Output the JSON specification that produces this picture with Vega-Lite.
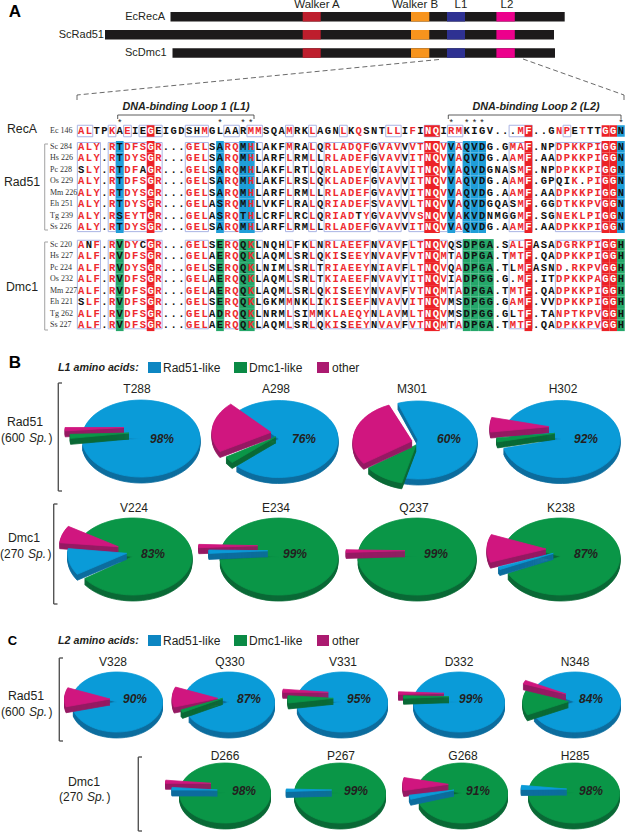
{
"$schema":"https://vega.github.io/schema/vega-lite/v6.json",
"width":625,"height":832,"padding":0,"autosize":{"type":"none"},
"background":"white",
"config":{"view":{"stroke":null},"axis":{"disable":true},"legend":{"disable":true},"text":{"font":"Liberation Sans"}},
"resolve":{"scale":{"x":"independent","y":"independent","color":"independent"}},
"datasets":{
"bars":[{"protein":"EcRecA","a":170.5,"b":564.7,"top":12,"bot":21.5},{"protein":"ScRad51","a":105,"b":554,"top":30,"bot":39.5},{"protein":"ScDmc1","a":172.5,"b":555,"top":48.3,"bot":57.8}],
"motifs":[
{"motif":"Walker A","a":302.7,"b":320.7,"top":12,"bot":21.5},{"motif":"Walker B","a":411,"b":429.3,"top":12,"bot":21.5},{"motif":"L1","a":447,"b":465,"top":12,"bot":21.5},{"motif":"L2","a":496.4,"b":514.8,"top":12,"bot":21.5},
{"motif":"Walker A","a":302.7,"b":320.7,"top":30,"bot":39.5},{"motif":"Walker B","a":411,"b":429.3,"top":30,"bot":39.5},{"motif":"L1","a":447,"b":465,"top":30,"bot":39.5},{"motif":"L2","a":496.4,"b":514.8,"top":30,"bot":39.5},
{"motif":"Walker A","a":302.7,"b":320.7,"top":48.3,"bot":57.8},{"motif":"Walker B","a":411,"b":429.3,"top":48.3,"bot":57.8},{"motif":"L1","a":447,"b":465,"top":48.3,"bot":57.8},{"motif":"L2","a":496.4,"b":514.8,"top":48.3,"bot":57.8}],
"dashes":[{"a":439,"b":77,"p":59.5,"q":95},{"a":77,"b":77,"p":95,"q":103},{"a":523,"b":624,"p":59,"q":95},{"a":624,"b":624,"p":95,"q":103}],
"brackets":[
{"kind":"loop","a":117.7,"b":254,"p":115,"q":115},{"kind":"loop","a":117.7,"b":117.7,"p":115,"q":119},{"kind":"loop","a":254,"b":254,"p":115,"q":119},
{"kind":"loop","a":448.3,"b":621,"p":115,"q":115},{"kind":"loop","a":448.3,"b":448.3,"p":115,"q":119},{"kind":"loop","a":621,"b":621,"p":115,"q":119},
{"kind":"block","a":44.7,"b":44.7,"p":144,"q":230},{"kind":"block","a":44.7,"b":48,"p":144,"q":144},{"kind":"block","a":44.7,"b":48,"p":230,"q":230},
{"kind":"block","a":44.7,"b":44.7,"p":242,"q":330},{"kind":"block","a":44.7,"b":48,"p":242,"q":242},{"kind":"block","a":44.7,"b":48,"p":330,"q":330},
{"kind":"group","a":58.3,"b":58.3,"p":383,"q":491},{"kind":"group","a":58.3,"b":62,"p":383,"q":383},{"kind":"group","a":58.3,"b":62,"p":491,"q":491},
{"kind":"group","a":53.7,"b":53.7,"p":504,"q":604},{"kind":"group","a":53.7,"b":57.5,"p":504,"q":504},{"kind":"group","a":53.7,"b":57.5,"p":604,"q":604},
{"kind":"group","a":59.3,"b":59.3,"p":658,"q":741},{"kind":"group","a":59.3,"b":63,"p":658,"q":658},{"kind":"group","a":59.3,"b":63,"p":741,"q":741},
{"kind":"group","a":138.3,"b":138.3,"p":757,"q":831},{"kind":"group","a":138.3,"b":142,"p":757,"q":757},{"kind":"group","a":138.3,"b":142,"p":831,"q":831}],
"alignment":[
{"id":"Ec 146","family":"RecA","line":0,"seq":"ALTPKAEIEGEIGDSHMGLAARMMSQAMRKLAGNLKQSNTLLIFINQIRMKIGV...MF..GNPETTTGGN"},
{"id":"Sc 284","family":"Rad51","line":1.37,"seq":"ALY.RTDFSGR...GELSARQMHLAKFMRALQRLADQFGVAVVVTNQVVAQVDG.GMAF.NPDPKKPIGGN"},
{"id":"Hs 226","family":"Rad51","line":2.37,"seq":"ALY.RTDYSGR...GELSARQMHLARFLRMLLRLADEFGVAVVITNQVVAQVDG.AAMF.AADPKKPIGGN"},
{"id":"Pc 228","family":"Rad51","line":3.37,"seq":"SLY.RTDFAGR...GELSARQMHLAKFLRTLQRLADEYGIAVVITNQVVAQVDGNASMF.NPDPKKPIGGN"},
{"id":"Os 229","family":"Rad51","line":4.37,"seq":"ALY.RTDFSGR...GELSARQMHLAKFLRSLQKLADEFGVAVVITNQVVAQVDG.AAMF.GPQIK.PIGGN"},
{"id":"Mm 226","family":"Rad51","line":5.37,"seq":"ALY.RTDYSGR...GELSARQMHLARFLRMLLRLADEFGVAVVITNQVVAQVDG.AAMF.AADPKKPIGGN"},
{"id":"Eh 251","family":"Rad51","line":6.37,"seq":"ALY.RTDYSGR...GELASRQMHLVKFLRALQRIADEFSVAVVLTNQVVAQVDGQASMF.GGDTKKPVGGN"},
{"id":"Tg 239","family":"Rad51","line":7.37,"seq":"ALY.RSEYTGR...GELASRQTHLCRFLRCLQRIADTYGVAVVVSNQVVAKVDNMGGMF.SGNEKLPIGGN"},
{"id":"Ss 226","family":"Rad51","line":8.37,"seq":"ALY.RTDYSGR...GELSARQMHLARFLRMLLRLADEFGVAVVITNQVVAQVDG.AAMF.AADPKKPIGGN"},
{"id":"Sc 220","family":"Dmc1","line":9.9,"seq":"ANF.RVDYCGR...GELSERQQKLNQHLFKLNRLAEEFNVAVFLTNQVQSDPGA.SALFASADGRKPIGGH"},
{"id":"Hs 227","family":"Dmc1","line":10.9,"seq":"ALF.RVDFSGR...GELAERQQKLAQMLSRLQKISEEYNVAVFVTNQMTADPGA.TMTF.QADPKKPIGGH"},
{"id":"Pc 224","family":"Dmc1","line":11.9,"seq":"ALF.RVDYSGR...GELSERQQKLNIMLSRLTRIAEEYNIAVFLTNQVQADPGA.TLMFASND.RKPVGGH"},
{"id":"Os 232","family":"Dmc1","line":12.9,"seq":"ALF.RVDFSGR...GELAERQQKLAQMLSRLTKIAEEFNVAVYITNQVIADPGG.G.MF.ITDPKKPAGGH"},
{"id":"Mm 227","family":"Dmc1","line":13.9,"seq":"ALF.RVDFSGR...GELAERQQKLAQMLSRLQKISEEYNVAVFVTNQMTADPGA.TMTF.QADPKKPIGGH"},
{"id":"Eh 221","family":"Dmc1","line":14.9,"seq":"SLF.RVDFSGR...GELSERQQKLGKMMNKLIKISEEFNVAVVITNQVMSDPGG.GAMF.VVDPKKPIGGH"},
{"id":"Tg 262","family":"Dmc1","line":15.9,"seq":"ALF.RVDFSGR...GELADRQQKLNRMLSIMMKLAEQYNLAVMLTNQVMSDPGG.GLTF.TANPTKPVGGH"},
{"id":"Ss 227","family":"Dmc1","line":16.9,"seq":"ALF.RVDFSGR...GELAERQQKLAQMLSRLQKISEEYNVAVFVTNQMTADPGA.TMTF.QADPKKPVGGH"}],
"redLetters":[
{"col":1,"red":"A"},{"col":2,"red":"L"},{"col":3,"red":"YF"},{"col":5,"red":"RK"},{"col":7,"red":"DE"},{"col":8,"red":"FY"},{"col":9,"red":"ST"},{"col":11,"red":"R"},{"col":15,"red":"G"},{"col":16,"red":"E"},{"col":17,"red":"LM"},{"col":20,"red":"R"},{"col":21,"red":"Q"},{"col":23,"red":"HKM"},{"col":24,"red":"M"},{"col":28,"red":"ML"},{"col":31,"red":"LM"},{"col":33,"red":"RKT"},{"col":34,"red":"LI"},{"col":35,"red":"AL"},{"col":36,"red":"DE"},{"col":37,"red":"EQ"},{"col":38,"red":"FY"},{"col":40,"red":"VIL"},{"col":41,"red":"AL"},{"col":42,"red":"VL"},{"col":44,"red":"VILF"},{"col":45,"red":"TS"},{"col":48,"red":"VM"},{"col":49,"red":"R"},{"col":50,"red":"AM"},{"col":57,"red":"AM"},{"col":58,"red":"AMLT"},{"col":63,"red":"DN"},{"col":64,"red":"PTEGR"},{"col":65,"red":"KRT"},{"col":66,"red":"KLT"},{"col":67,"red":"P"},{"col":68,"red":"IVA"}],
"boxes":[
{"a":1,"b":2,"p":-0.5,"q":0.5},{"a":5,"b":5,"p":-0.5,"q":0.5},{"a":7,"b":7,"p":-0.5,"q":0.5},{"a":9,"b":11,"p":-0.5,"q":0.5},{"a":15,"b":17,"p":-0.5,"q":0.5},{"a":20,"b":21,"p":-0.5,"q":0.5},{"a":23,"b":24,"p":-0.5,"q":0.5},{"a":28,"b":28,"p":-0.5,"q":0.5},{"a":31,"b":31,"p":-0.5,"q":0.5},{"a":35,"b":35,"p":-0.5,"q":0.5},{"a":41,"b":42,"p":-0.5,"q":0.5},{"a":46,"b":47,"p":-0.5,"q":0.5},{"a":49,"b":50,"p":-0.5,"q":0.5},{"a":57,"b":59,"p":-0.5,"q":0.5},{"a":64,"b":64,"p":-0.5,"q":0.5},
{"a":1,"b":3,"p":1.0,"q":8.75},{"a":5,"b":5,"p":1.0,"q":8.75},{"a":7,"b":11,"p":1.0,"q":8.75},{"a":15,"b":17,"p":1.0,"q":8.75},{"a":20,"b":21,"p":1.0,"q":8.75},{"a":23,"b":24,"p":1.0,"q":8.75},{"a":28,"b":28,"p":1.0,"q":8.75},{"a":31,"b":31,"p":1.0,"q":8.75},{"a":33,"b":38,"p":1.0,"q":8.75},{"a":40,"b":42,"p":1.0,"q":8.75},{"a":44,"b":48,"p":1.0,"q":8.75},{"a":50,"b":50,"p":1.0,"q":8.75},{"a":57,"b":59,"p":1.0,"q":8.75},{"a":63,"b":68,"p":1.0,"q":8.75},
{"a":1,"b":3,"p":9.5,"q":17.2},{"a":5,"b":5,"p":9.5,"q":17.2},{"a":7,"b":11,"p":9.5,"q":17.2},{"a":15,"b":17,"p":9.5,"q":17.2},{"a":20,"b":21,"p":9.5,"q":17.2},{"a":23,"b":24,"p":9.5,"q":17.2},{"a":28,"b":28,"p":9.5,"q":17.2},{"a":31,"b":31,"p":9.5,"q":17.2},{"a":33,"b":38,"p":9.5,"q":17.2},{"a":40,"b":42,"p":9.5,"q":17.2},{"a":44,"b":48,"p":9.5,"q":17.2},{"a":50,"b":50,"p":9.5,"q":17.2},{"a":57,"b":59,"p":9.5,"q":17.2},{"a":63,"b":68,"p":9.5,"q":17.2}],
"stars":[{"col":6},{"col":19},{"col":22},{"col":23},{"col":49},{"col":51},{"col":52},{"col":53},{"col":71}],
"pies":[
{"site":"T288","cx":141,"cy":438.5,"rx":59,"ry":38.5,"tx":137,"ty":389,"lx":162,"ly":439,"pct":"98%"},
{"site":"A298","cx":279,"cy":439,"rx":59,"ry":38.5,"tx":276,"ty":389,"lx":304,"ly":439,"pct":"76%"},
{"site":"M301","cx":418,"cy":441,"rx":59,"ry":39,"tx":412,"ty":389,"lx":449,"ly":439,"pct":"60%"},
{"site":"H302","cx":561,"cy":439,"rx":59,"ry":38.5,"tx":563,"ty":389,"lx":586,"ly":439,"pct":"92%"},
{"site":"V224","cx":133,"cy":556.5,"rx":59,"ry":38.5,"tx":134,"ty":508,"lx":153,"ly":554,"pct":"83%"},
{"site":"E234","cx":279,"cy":556.5,"rx":59,"ry":38.5,"tx":276,"ty":508,"lx":295,"ly":554,"pct":"99%"},
{"site":"Q237","cx":417,"cy":556.5,"rx":59,"ry":38.5,"tx":414,"ty":508,"lx":436,"ly":554,"pct":"99%"},
{"site":"K238","cx":561,"cy":556.5,"rx":59,"ry":38.5,"tx":561,"ty":508,"lx":586,"ly":554,"pct":"87%"},
{"site":"V328","cx":117,"cy":702,"rx":45.5,"ry":30,"tx":113,"ty":662,"lx":135,"ly":699,"pct":"90%"},
{"site":"Q330","cx":229,"cy":702,"rx":45.5,"ry":30,"tx":230,"ty":662,"lx":249,"ly":699,"pct":"87%"},
{"site":"V331","cx":342,"cy":702,"rx":45.5,"ry":30,"tx":343,"ty":662,"lx":359,"ly":699,"pct":"95%"},
{"site":"D332","cx":459,"cy":702,"rx":45.5,"ry":30,"tx":459,"ty":662,"lx":471,"ly":699,"pct":"99%"},
{"site":"N348","cx":575,"cy":702,"rx":45.5,"ry":30,"tx":575,"ty":662,"lx":591,"ly":699,"pct":"84%"},
{"site":"D266","cx":225,"cy":793,"rx":45.5,"ry":30,"tx":225,"ty":756,"lx":244,"ly":791,"pct":"98%"},
{"site":"P267","cx":340,"cy":793,"rx":45.5,"ry":30,"tx":341,"ty":756,"lx":356,"ly":791,"pct":"99%"},
{"site":"G268","cx":462,"cy":793,"rx":45.5,"ry":30,"tx":463,"ty":756,"lx":478,"ly":791,"pct":"91%"},
{"site":"H285","cx":574,"cy":793,"rx":45.5,"ry":30,"tx":575,"ty":756,"lx":591,"ly":791,"pct":"98%"}],
"slices":[
{"site":"T288","series":"Rad51-like","share":98,"from":272,"to":622,"ox":0,"oy":0},
{"site":"T288","series":"other","share":1,"from":265,"to":270,"ox":-17,"oy":-11},
{"site":"T288","series":"Dmc1-like","share":1,"from":262,"to":268,"ox":-12,"oy":-5.5},
{"site":"A298","series":"Rad51-like","share":76,"from":318,"to":586,"ox":0,"oy":0},
{"site":"A298","series":"Dmc1-like","share":3,"from":228,"to":238,"ox":-3,"oy":-2.3},
{"site":"A298","series":"other","share":21,"from":240,"to":317,"ox":-8,"oy":-6.7},
{"site":"M301","series":"Rad51-like","share":60,"from":340,"to":554,"ox":0,"oy":-1},
{"site":"M301","series":"Dmc1-like","share":11,"from":194,"to":234,"ox":-2,"oy":4},
{"site":"M301","series":"other","share":29,"from":235,"to":337,"ox":-6,"oy":0},
{"site":"H302","series":"Rad51-like","share":92,"from":285,"to":616,"ox":0,"oy":0},
{"site":"H302","series":"other","share":6,"from":262,"to":284,"ox":-12,"oy":-12.3},
{"site":"H302","series":"Dmc1-like","share":2,"from":257,"to":263,"ox":-6,"oy":-5.7},
{"site":"V224","series":"Dmc1-like","share":83,"from":278,"to":595,"ox":0,"oy":0},
{"site":"V224","series":"other","share":7,"from":276,"to":302,"ox":-14.7,"oy":-9.8},
{"site":"V224","series":"Rad51-like","share":10,"from":237,"to":277,"ox":-6.3,"oy":-3.2},
{"site":"E234","series":"Dmc1-like","share":99,"from":272,"to":625,"ox":0,"oy":0},
{"site":"E234","series":"other","share":0.5,"from":267,"to":272,"ox":-21.3,"oy":-10.8},
{"site":"E234","series":"Rad51-like","share":0.5,"from":266,"to":271,"ox":-11.3,"oy":-5.8},
{"site":"Q237","series":"Dmc1-like","share":99,"from":272,"to":627,"ox":0,"oy":0},
{"site":"Q237","series":"other","share":1,"from":267.5,"to":271.5,"ox":-12,"oy":-5.8},
{"site":"K238","series":"Dmc1-like","share":87,"from":292,"to":604,"ox":0,"oy":0},
{"site":"K238","series":"other","share":12,"from":250,"to":292,"ox":-15,"oy":-7.5},
{"site":"K238","series":"Rad51-like","share":1,"from":245,"to":249,"ox":-7.7,"oy":-3.2},
{"site":"V328","series":"Rad51-like","share":90,"from":292,"to":615,"ox":0,"oy":0},
{"site":"V328","series":"other","share":10,"from":255,"to":292,"ox":-7,"oy":-3},
{"site":"Q330","series":"Rad51-like","share":87,"from":293,"to":602,"ox":0,"oy":0},
{"site":"Q330","series":"other","share":11,"from":253,"to":292,"ox":-11.3,"oy":-3.7},
{"site":"Q330","series":"Dmc1-like","share":2,"from":242,"to":247,"ox":-6.3,"oy":-3.7},
{"site":"V331","series":"Rad51-like","share":95,"from":276,"to":620,"ox":0,"oy":0},
{"site":"V331","series":"other","share":1,"from":270,"to":276,"ox":-13.7,"oy":-9.7},
{"site":"V331","series":"Dmc1-like","share":4,"from":261,"to":275,"ox":-8.7,"oy":-3.7},
{"site":"D332","series":"Rad51-like","share":99,"from":273,"to":626,"ox":0,"oy":0},
{"site":"D332","series":"other","share":0.5,"from":268,"to":273,"ox":-15,"oy":-8.7},
{"site":"D332","series":"Dmc1-like","share":0.5,"from":267,"to":272,"ox":-10,"oy":-5.3},
{"site":"N348","series":"Rad51-like","share":84,"from":300,"to":604,"ox":0,"oy":0},
{"site":"N348","series":"Dmc1-like","share":14,"from":244,"to":300,"ox":-6.7,"oy":-0.3},
{"site":"N348","series":"other","share":2,"from":290,"to":297,"ox":-9,"oy":-8},
{"site":"D266","series":"Dmc1-like","share":98,"from":276,"to":629,"ox":0,"oy":0},
{"site":"D266","series":"other","share":1,"from":270,"to":276,"ox":-14,"oy":-9.7},
{"site":"D266","series":"Rad51-like","share":1,"from":270,"to":275,"ox":-7.7,"oy":-3},
{"site":"P267","series":"Dmc1-like","share":99,"from":272,"to":627,"ox":0,"oy":0},
{"site":"P267","series":"Rad51-like","share":1,"from":267,"to":272,"ox":-8.3,"oy":-3},
{"site":"G268","series":"Dmc1-like","share":91,"from":284,"to":611,"ox":0,"oy":0},
{"site":"G268","series":"other","share":7,"from":258,"to":283,"ox":-13.7,"oy":-8.7},
{"site":"G268","series":"Rad51-like","share":2,"from":252,"to":260,"ox":-8,"oy":-3},
{"site":"H285","series":"Dmc1-like","share":98,"from":277,"to":629,"ox":0,"oy":0},
{"site":"H285","series":"Rad51-like","share":2,"from":269,"to":277,"ox":-7.3,"oy":-4}],
"swatches":[
{"series":"Rad51-like","a":148,"b":161,"top":362,"bot":373},{"series":"Dmc1-like","a":234,"b":247,"top":362,"bot":373},{"series":"other","a":317,"b":329,"top":362,"bot":373},
{"series":"Rad51-like","a":148,"b":161,"top":635,"bot":646},{"series":"Dmc1-like","a":234,"b":247,"top":635,"bot":646},{"series":"other","a":317,"b":329,"top":635,"bot":646}],
"motifLabels":[{"t":"Walker A","x":317,"y":4.5},{"t":"Walker B","x":415,"y":4.5},{"t":"L1","x":461,"y":4.5},{"t":"L2","x":507,"y":4.5}],
"proteinLabels":[{"t":"EcRecA","x":165,"y":17},{"t":"ScRad51","x":104,"y":35},{"t":"ScDmc1","x":166.5,"y":53}],
"familyLabels":[{"t":"RecA","x":22,"y":129},{"t":"Rad51","x":22,"y":182},{"t":"Dmc1","x":22,"y":287},{"t":"Rad51","x":25,"y":422},{"t":"Dmc1","x":24,"y":538},{"t":"Rad51","x":26,"y":696},{"t":"Dmc1","x":84,"y":782}],
"countLabels":[{"t":"(600 ","x":1,"y":438},{"t":")","x":48.5,"y":438},{"t":"(270 ","x":0,"y":554},{"t":")","x":47.5,"y":554},{"t":"(600 ","x":1,"y":712},{"t":")","x":48.5,"y":712},{"t":"(270 ","x":59,"y":797},{"t":")","x":106.5,"y":797}],
"spLabels":[{"t":"Sp.","x":29,"y":438},{"t":"Sp.","x":28,"y":554},{"t":"Sp.","x":29,"y":712},{"t":"Sp.","x":87,"y":797}],
"loopLabels":[{"t":"DNA-binding Loop 1 (L1)","x":186,"y":106.7},{"t":"DNA-binding Loop 2 (L2)","x":536,"y":106.7}],
"legendTitles":[{"t":"L1 amino acids:","x":58,"y":368},{"t":"L2 amino acids:","x":58,"y":641}],
"legendLabels":[{"t":"Rad51-like","x":163,"y":368},{"t":"Dmc1-like","x":249,"y":368},{"t":"other","x":332,"y":368},{"t":"Rad51-like","x":163,"y":641},{"t":"Dmc1-like","x":249,"y":641},{"t":"other","x":332,"y":641}],
"panelLetters":[{"t":"A","x":15,"y":12,"big":1},{"t":"B","x":15,"y":363,"big":1},{"t":"C","x":12.5,"y":641,"big":0}]
},
"layer":[
{"data":{"name":"bars"},"mark":{"type":"rect","fill":"#1c1a1b"},"encoding":{
 "x":{"field":"a","type":"quantitative","scale":{"domain":[0,625]}},"x2":{"field":"b"},
 "y":{"field":"top","type":"quantitative","scale":{"domain":[0,832],"reverse":true}},"y2":{"field":"bot"}}},
{"data":{"name":"motifs"},"mark":{"type":"rect"},"encoding":{
 "x":{"field":"a","type":"quantitative","scale":{"domain":[0,625]}},"x2":{"field":"b"},
 "y":{"field":"top","type":"quantitative","scale":{"domain":[0,832],"reverse":true}},"y2":{"field":"bot"},
 "color":{"field":"motif","type":"nominal","scale":{"domain":["Walker A","Walker B","L1","L2"],"range":["#be1e2d","#f7941d","#2e3192","#ec008c"]}}}},
{"data":{"name":"dashes"},"mark":{"type":"rule","stroke":"#444444","strokeWidth":0.8,"strokeDash":[5,3]},"encoding":{
 "x":{"field":"a","type":"quantitative","scale":{"domain":[0,625]}},"x2":{"field":"b"},
 "y":{"field":"p","type":"quantitative","scale":{"domain":[0,832],"reverse":true}},"y2":{"field":"q"}}},
{"data":{"name":"brackets"},"mark":{"type":"rule"},"encoding":{
 "x":{"field":"a","type":"quantitative","scale":{"domain":[0,625]}},"x2":{"field":"b"},
 "y":{"field":"p","type":"quantitative","scale":{"domain":[0,832],"reverse":true}},"y2":{"field":"q"},
 "color":{"field":"kind","type":"nominal","scale":{"domain":["loop","block","group"],"range":["#333333","#aaaaaa","#555555"]}},
 "strokeWidth":{"field":"kind","type":"nominal","scale":{"domain":["loop","block","group"],"range":[0.8,1.4,0.8]}}}},
{"data":{"name":"boxes"},"transform":[{"calculate":"datum.a-0.5","as":"c0"},{"calculate":"datum.b+0.5","as":"c1"}],
 "mark":{"type":"rect","filled":false,"stroke":"#aab4e4","strokeWidth":1},"encoding":{
 "x":{"field":"c0","type":"quantitative","scale":{"domain":[1,71],"range":[81.2,620.9]}},"x2":{"field":"c1"},
 "y":{"field":"p","type":"quantitative","scale":{"domain":[0,17],"range":[131,326.5]}},"y2":{"field":"q"}}},
{"data":{"name":"alignment"},"transform":[
 {"calculate":"split(datum.seq,'')","as":"residues"},{"flatten":["residues"],"as":["res"]},
 {"window":[{"op":"row_number","as":"col"}],"groupby":["id"]},
 {"calculate":"indexof([10,46,47,59,69,70],datum.col)>=0?'cons':(datum.family=='Rad51'&&indexof([6,19,22,23,49,51,52,53,71],datum.col)>=0)||(datum.family=='RecA'&&datum.col==71)?'rad':(datum.family=='Dmc1'&&indexof([6,19,22,23,51,52,53,54,71],datum.col)>=0)?'dmc':'none'","as":"cell"},
 {"filter":"datum.cell!='none'"},
 {"calculate":"datum.col-0.5","as":"c0"},{"calculate":"datum.col+0.5","as":"c1"},
 {"calculate":"datum.line-0.5","as":"l0"},{"calculate":"datum.line+0.5","as":"l1"}],
 "mark":{"type":"rect"},"encoding":{
 "x":{"field":"c0","type":"quantitative","scale":{"domain":[1,71],"range":[81.2,620.9]}},"x2":{"field":"c1"},
 "y":{"field":"l0","type":"quantitative","scale":{"domain":[0,17],"range":[131,326.5]}},"y2":{"field":"l1"},
 "color":{"field":"cell","type":"nominal","scale":{"domain":["cons","rad","dmc"],"range":["#ec2227","#1f9ed8","#25a76a"]}}}},
{"data":{"name":"alignment"},"transform":[
 {"calculate":"split(datum.seq,'')","as":"residues"},{"flatten":["residues"],"as":["res"]},
 {"window":[{"op":"row_number","as":"col"}],"groupby":["id"]},
 {"lookup":"col","from":{"data":{"name":"redLetters"},"key":"col","fields":["red"]}},
 {"calculate":"indexof([10,46,47,59,69,70],datum.col)>=0?'white':(datum.red&&indexof(datum.red,datum.res)>=0?'red':'black')","as":"ink"}],
 "mark":{"type":"text","font":"Liberation Mono","fontWeight":"bold","fontSize":10.5,"baseline":"middle","align":"center"},"encoding":{
 "x":{"field":"col","type":"quantitative","scale":{"domain":[1,71],"range":[81.2,620.9]}},
 "y":{"field":"line","type":"quantitative","scale":{"domain":[0,17],"range":[131,326.5]}},
 "text":{"field":"res"},
 "color":{"field":"ink","type":"nominal","scale":{"domain":["white","red","black"],"range":["#ffffff","#ee2a2f","#111111"]}}}},
{"data":{"name":"alignment"},"mark":{"type":"text","font":"Liberation Serif","fontSize":8,"align":"left","baseline":"middle","color":"#333333"},"encoding":{
 "x":{"datum":50,"type":"quantitative","scale":{"domain":[0,625]}},
 "y":{"field":"line","type":"quantitative","scale":{"domain":[0,17],"range":[131,326.5]}},
 "text":{"field":"id"}}},
{"data":{"name":"stars"},"mark":{"type":"text","text":"*","fontSize":9,"baseline":"middle","color":"#222222"},"encoding":{
 "x":{"field":"col","type":"quantitative","scale":{"domain":[1,71],"range":[81.2,620.9]}},
 "y":{"datum":-0.75,"type":"quantitative","scale":{"domain":[0,17],"range":[131,326.5]}}}},
{"data":{"name":"slices"},"transform":[
 {"lookup":"site","from":{"data":{"name":"pies"},"key":"site","fields":["cx","cy","rx","ry"]}},
 {"calculate":"datum.from*PI/180","as":"a0"},{"calculate":"datum.to*PI/180","as":"a1"},
 {"calculate":"'M'+datum.ox+' '+datum.oy+'L'+round(100*(datum.ox+datum.rx*sin(datum.a0)))/100+' '+round(100*(datum.oy-datum.ry*cos(datum.a0)))/100+'A'+datum.rx+' '+datum.ry+' 0 '+(datum.to-datum.from>180?1:0)+' 1 '+round(100*(datum.ox+datum.rx*sin(datum.a1)))/100+' '+round(100*(datum.oy-datum.ry*cos(datum.a1)))/100+'Z'","as":"wedge"},
 {"calculate":"[6,5,4,3,2,1,0]","as":"depths"},{"flatten":["depths"],"as":["depth"]},
 {"calculate":"datum.cy+datum.depth","as":"yy"},
 {"calculate":"datum.series+(datum.depth>0?' side':'')","as":"tone"}],
 "mark":{"type":"point","filled":true,"opacity":1,"size":4,"strokeWidth":0.8},"encoding":{
 "x":{"field":"cx","type":"quantitative","scale":{"domain":[0,625]}},
 "y":{"field":"yy","type":"quantitative","scale":{"domain":[0,832],"reverse":true}},
 "shape":{"field":"wedge","type":"nominal","scale":null},
 "stroke":{"field":"tone","type":"nominal","scale":{"domain":["Rad51-like","Rad51-like side","Dmc1-like","Dmc1-like side","other","other side"],"range":["#0a9bd8","#0d6d9e","#0a9647","#0a6a36","#d0167f","#951a63"]}},
 "color":{"field":"tone","type":"nominal","scale":{"domain":["Rad51-like","Rad51-like side","Dmc1-like","Dmc1-like side","other","other side"],"range":["#0a9bd8","#0d6d9e","#0a9647","#0a6a36","#d0167f","#951a63"]}}}},
{"data":{"name":"swatches"},"mark":{"type":"rect"},"encoding":{
 "x":{"field":"a","type":"quantitative","scale":{"domain":[0,625]}},"x2":{"field":"b"},
 "y":{"field":"top","type":"quantitative","scale":{"domain":[0,832],"reverse":true}},"y2":{"field":"bot"},
 "color":{"field":"series","type":"nominal","scale":{"domain":["Rad51-like","Dmc1-like","other"],"range":["#0d86c2","#0a8a45","#ab1a70"]}}}},
{"data":{"name":"pies"},"mark":{"type":"text","fontSize":12,"baseline":"middle","align":"center","color":"#231f20"},"encoding":{
 "x":{"field":"tx","type":"quantitative","scale":{"domain":[0,625]}},
 "y":{"field":"ty","type":"quantitative","scale":{"domain":[0,832],"reverse":true}},
 "text":{"field":"site"}}},
{"data":{"name":"pies"},"mark":{"type":"text","fontSize":12,"fontWeight":"bold","fontStyle":"italic","baseline":"middle","align":"center","color":"#231f20"},"encoding":{
 "x":{"field":"lx","type":"quantitative","scale":{"domain":[0,625]}},
 "y":{"field":"ly","type":"quantitative","scale":{"domain":[0,832],"reverse":true}},
 "text":{"field":"pct"}}},
{"data":{"name":"motifLabels"},"mark":{"type":"text","fontSize":11.5,"baseline":"middle","align":"center","color":"#231f20"},"encoding":{
 "x":{"field":"x","type":"quantitative","scale":{"domain":[0,625]}},
 "y":{"field":"y","type":"quantitative","scale":{"domain":[0,832],"reverse":true}},"text":{"field":"t"}}},
{"data":{"name":"proteinLabels"},"mark":{"type":"text","fontSize":11,"baseline":"middle","align":"right","color":"#231f20"},"encoding":{
 "x":{"field":"x","type":"quantitative","scale":{"domain":[0,625]}},
 "y":{"field":"y","type":"quantitative","scale":{"domain":[0,832],"reverse":true}},"text":{"field":"t"}}},
{"data":{"name":"familyLabels"},"mark":{"type":"text","fontSize":12.3,"baseline":"middle","align":"center","color":"#231f20"},"encoding":{
 "x":{"field":"x","type":"quantitative","scale":{"domain":[0,625]}},
 "y":{"field":"y","type":"quantitative","scale":{"domain":[0,832],"reverse":true}},"text":{"field":"t"}}},
{"data":{"name":"countLabels"},"mark":{"type":"text","fontSize":12,"baseline":"middle","align":"left","color":"#231f20"},"encoding":{
 "x":{"field":"x","type":"quantitative","scale":{"domain":[0,625]}},
 "y":{"field":"y","type":"quantitative","scale":{"domain":[0,832],"reverse":true}},"text":{"field":"t"}}},
{"data":{"name":"spLabels"},"mark":{"type":"text","fontSize":12,"fontStyle":"italic","baseline":"middle","align":"left","color":"#231f20"},"encoding":{
 "x":{"field":"x","type":"quantitative","scale":{"domain":[0,625]}},
 "y":{"field":"y","type":"quantitative","scale":{"domain":[0,832],"reverse":true}},"text":{"field":"t"}}},
{"data":{"name":"loopLabels"},"mark":{"type":"text","fontSize":10.8,"fontWeight":"bold","fontStyle":"italic","baseline":"middle","align":"center","color":"#231f20"},"encoding":{
 "x":{"field":"x","type":"quantitative","scale":{"domain":[0,625]}},
 "y":{"field":"y","type":"quantitative","scale":{"domain":[0,832],"reverse":true}},"text":{"field":"t"}}},
{"data":{"name":"legendTitles"},"mark":{"type":"text","fontSize":10.7,"fontWeight":"bold","fontStyle":"italic","baseline":"middle","align":"left","color":"#231f20"},"encoding":{
 "x":{"field":"x","type":"quantitative","scale":{"domain":[0,625]}},
 "y":{"field":"y","type":"quantitative","scale":{"domain":[0,832],"reverse":true}},"text":{"field":"t"}}},
{"data":{"name":"legendLabels"},"mark":{"type":"text","fontSize":12,"baseline":"middle","align":"left","color":"#231f20"},"encoding":{
 "x":{"field":"x","type":"quantitative","scale":{"domain":[0,625]}},
 "y":{"field":"y","type":"quantitative","scale":{"domain":[0,832],"reverse":true}},"text":{"field":"t"}}},
{"data":{"name":"panelLetters"},"mark":{"type":"text","fontWeight":"bold","baseline":"middle","align":"center","color":"#000000"},"encoding":{
 "x":{"field":"x","type":"quantitative","scale":{"domain":[0,625]}},
 "y":{"field":"y","type":"quantitative","scale":{"domain":[0,832],"reverse":true}},"text":{"field":"t"},
 "size":{"field":"big","type":"ordinal","scale":{"domain":[1,0],"range":[17,13]}}}}
]
}
